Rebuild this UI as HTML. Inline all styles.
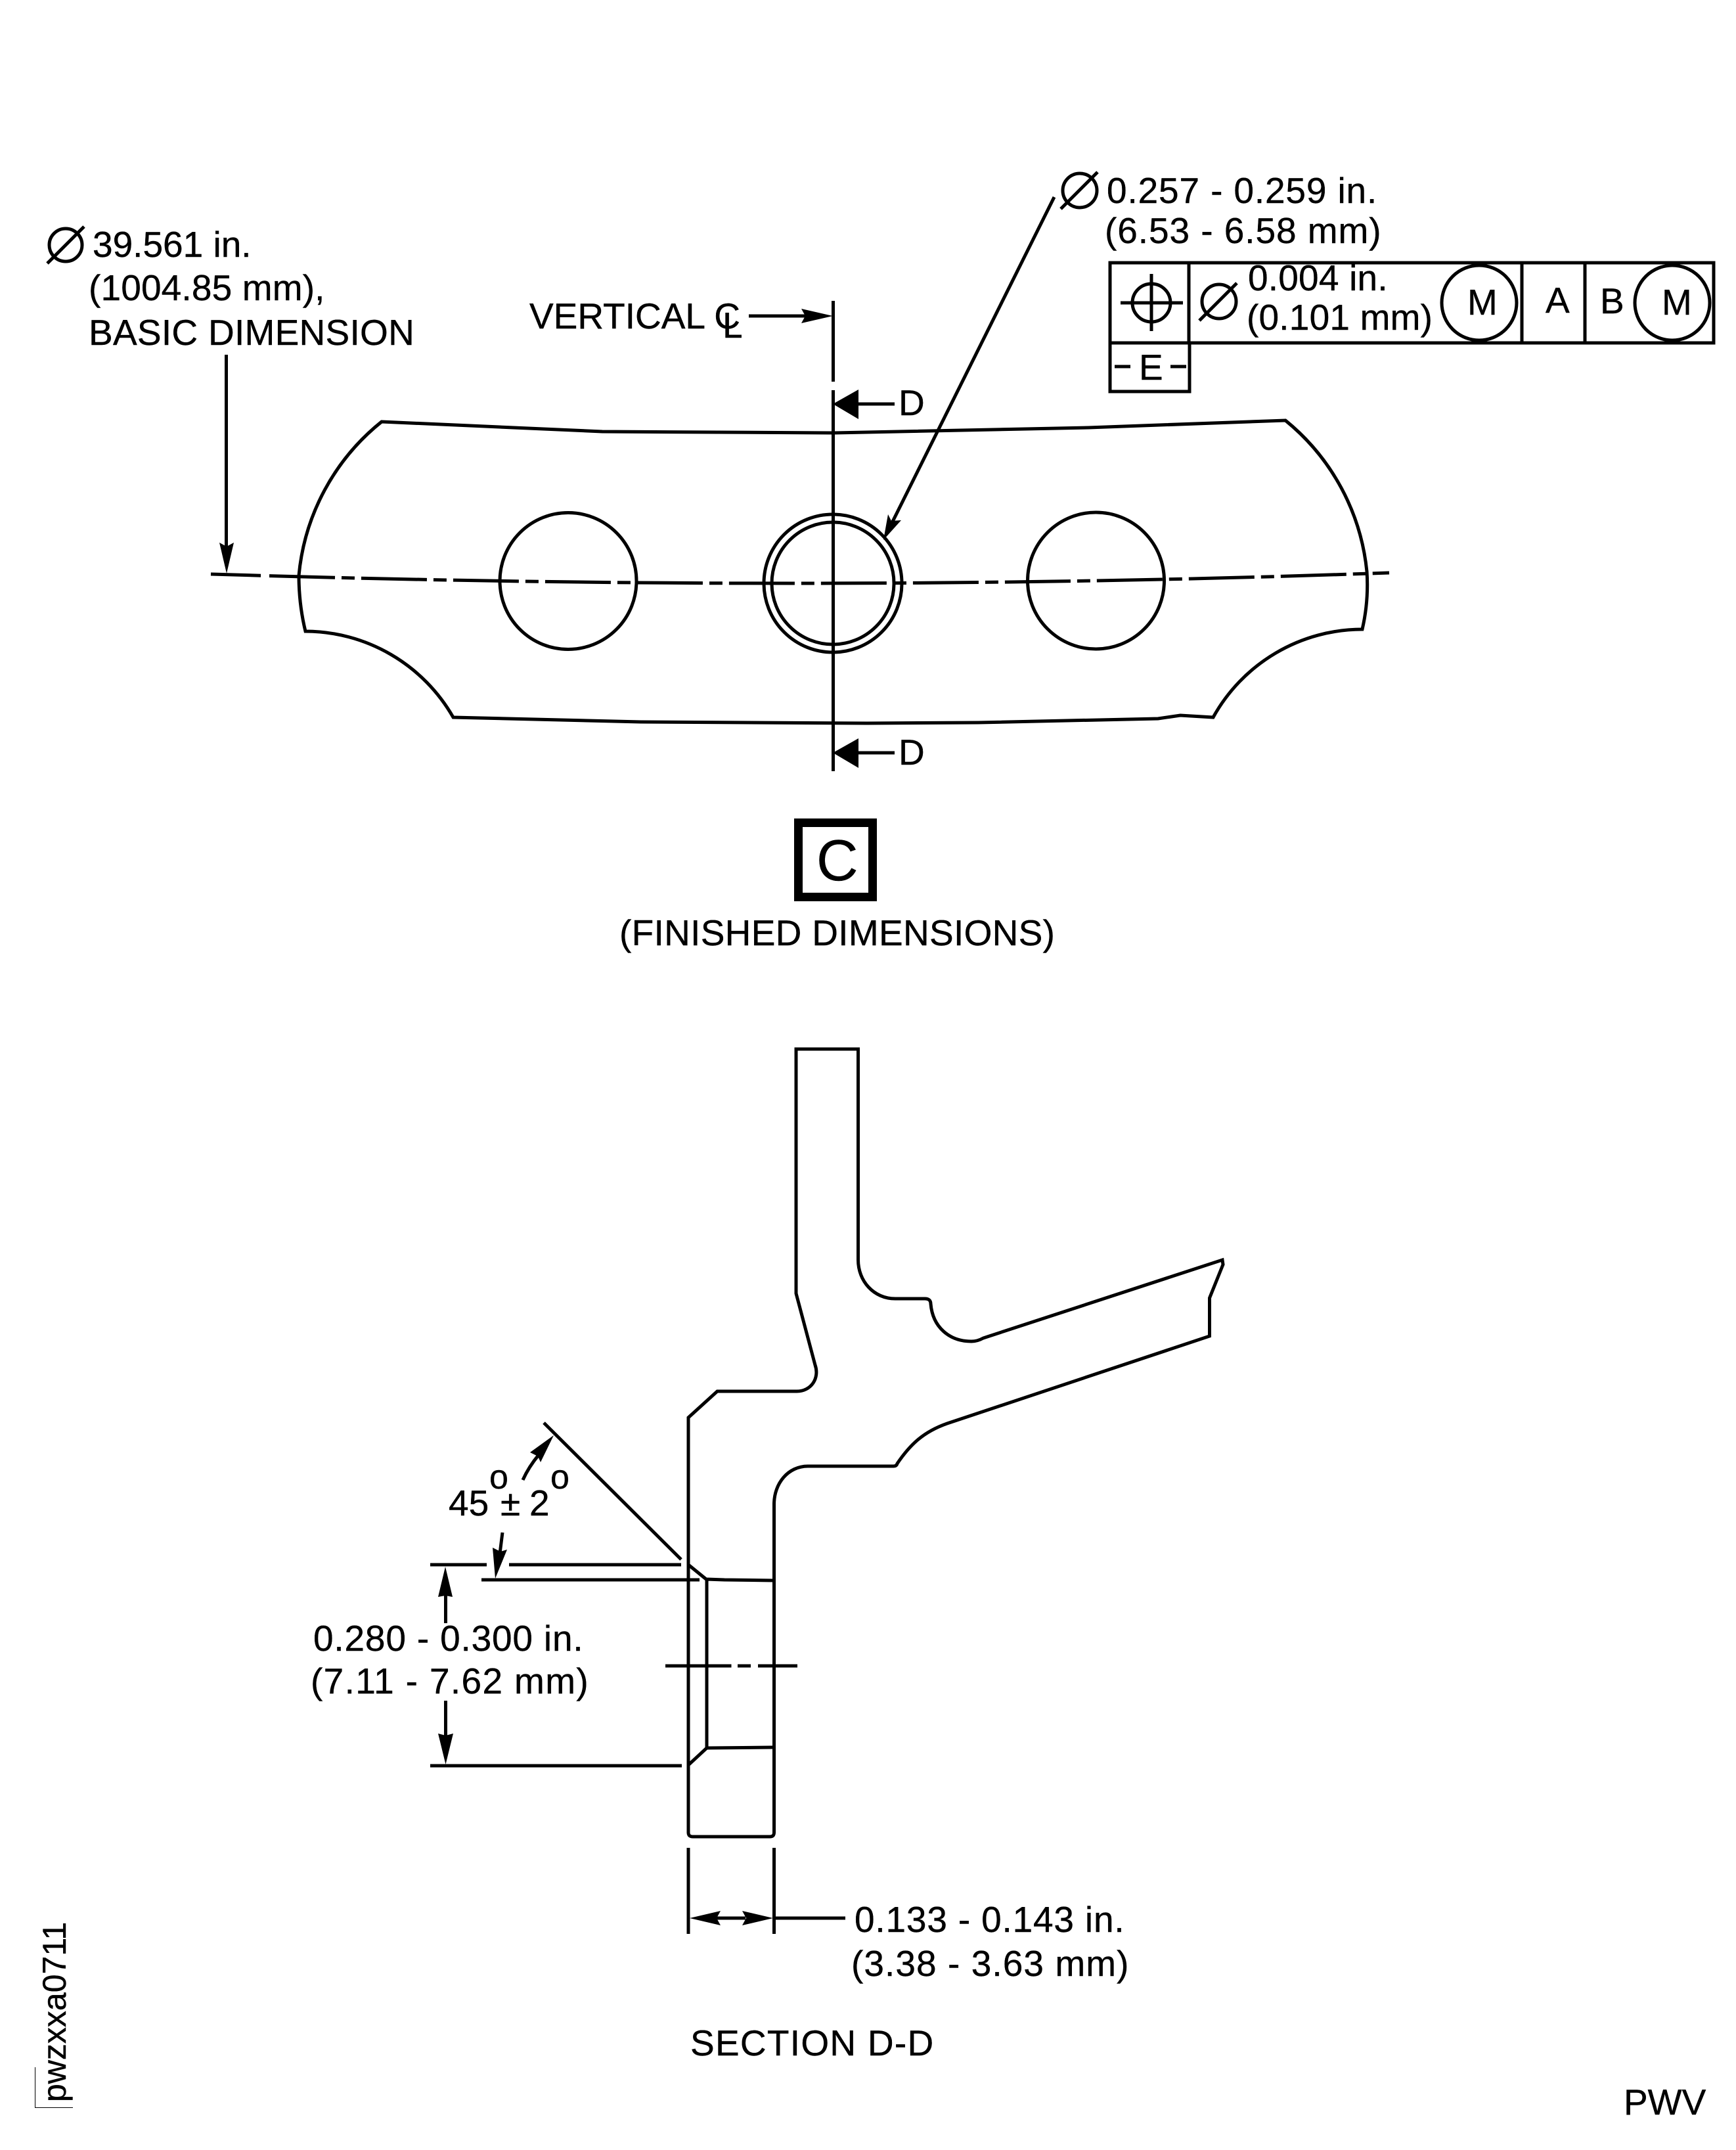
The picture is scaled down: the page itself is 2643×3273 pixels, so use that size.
<!DOCTYPE html>
<html>
<head>
<meta charset="utf-8">
<style>
html,body{margin:0;padding:0;background:#fff}
svg{display:block}
text{font-family:"Liberation Sans",sans-serif;font-size:55px;fill:#000;stroke:#000;stroke-width:.4}
.l{fill:none;stroke:#000;stroke-width:5}
.f{fill:#000;stroke:none}
</style>
</head>
<body>
<svg xmlns="http://www.w3.org/2000/svg" width="2643" height="3273" viewBox="0 0 2643 3273">
<rect width="2643" height="3273" fill="#fff"/>

<!-- Top view outline -->
<path class="l" d="M581 642 L917 657 L1268 659 L1657 651 L1957 640 A340 340 0 0 1 2081 870 Q2084 915 2074 958 A260 260 0 0 0 1847 1092 L1797 1089 L1763 1094 L1489 1100 L1320 1101 L976 1099 L690 1092 A260 260 0 0 0 465 961 Q455 920 455 876 A340 340 0 0 1 581 642 Z"/>
<circle class="l" cx="865" cy="884.5" r="104"/>
<circle class="l" cx="1268" cy="888" r="105"/>
<circle class="l" cx="1268" cy="888" r="93"/>
<circle class="l" cx="1668.5" cy="884" r="104"/>

<!-- Bolt circle centre line -->
<path class="l" d="M321 874 Q1259 903 2115 872" stroke-dasharray="76 13 100 10 20 10 100 10 20 10 100 10 20 10 100 10 20 10 100 10 20 10 100 10 20 10 100 10 20 10 100 10 20 10 100 10 20 10 100 10 20 10 100 10 20 10 100 10 20 10 100 10 25 999"/>

<!-- Vertical centre line -->
<path class="l" d="M1268.5 458 V581 M1268.5 594 V1174"/>
<path class="f" d="M1268 615 L1307 593 V638 Z"/>
<path class="l" d="M1300 615 H1362"/>
<text x="1368" y="632">D</text>
<path class="f" d="M1268 1146 L1307 1124 V1169 Z"/>
<path class="l" d="M1300 1146 H1362"/>
<text x="1368" y="1164">D</text>

<!-- Basic dimension note -->
<circle class="l" cx="100" cy="373" r="25"/>
<path class="l" d="M72 401 L128 345"/>
<text x="141" y="391">39.561 in.</text>
<text x="135" y="457" style="letter-spacing:.15px">(1004.85 mm),</text>
<text x="135" y="525" style="letter-spacing:.27px">BASIC DIMENSION</text>
<path class="l" d="M344.5 540 V850"/>
<path class="f" d="M345 873 L334 826 L345 832 L356 826 Z"/>

<!-- Vertical CL -->
<text x="806" y="500">VERTICAL C</text>
<text x="1100" y="514">L</text>
<path class="l" d="M1140 481 H1240"/>
<path class="f" d="M1268 481 L1220 470 L1226 481 L1220 492 Z"/>

<!-- Hole note -->
<circle class="l" cx="1644" cy="290" r="26"/>
<path class="l" d="M1615 318 L1671 262"/>
<text x="1685" y="309" style="letter-spacing:.86px">0.257 - 0.259 in.</text>
<text x="1682" y="370" style="letter-spacing:.94px">(6.53 - 6.58 mm)</text>
<path class="l" d="M1605 300 L1352 808"/>
<path class="f" d="M1345 822 L1352 783 L1357 793 L1372 792 Z"/>

<!-- Feature control frame -->
<path class="l" d="M1690 400 H2609 V522 H1690 Z M1810 400 V522 M2317 400 V522 M2413 400 V522 M1690 522 V596 H1811 V522"/>
<circle class="l" cx="1753" cy="461" r="29"/>
<path class="l" d="M1706 461 H1801 M1753 417 V504"/>
<circle class="l" cx="1856" cy="459" r="26"/>
<path class="l" d="M1826 488 L1883 431"/>
<text x="1900" y="442" style="letter-spacing:.2px">0.004 in.</text>
<text x="1898" y="502" style="letter-spacing:.2px">(0.101 mm)</text>
<circle class="l" cx="2252" cy="461" r="57"/>
<text x="2234" y="479">M</text>
<text x="2353" y="476">A</text>
<text x="2436" y="477">B</text>
<circle class="l" cx="2546" cy="461" r="57"/>
<text x="2530" y="479">M</text>
<path class="l" d="M1697 558 H1721 M1782 558 H1806"/>
<text x="1734" y="578">E</text>

<!-- View label -->
<rect x="1215.5" y="1252.5" width="113" height="113" fill="none" stroke="#000" stroke-width="13"/>
<text x="1243" y="1340" style="font-size:88px">C</text>
<text x="943" y="1439" style="letter-spacing:.3px">(FINISHED DIMENSIONS)</text>

<!-- Section profile -->
<path class="l" d="M1212 1597 H1306.5 V1918 C1306.5 1950 1330 1977 1363 1977 H1408 Q1417 1977 1417 1985 C1420 2020 1445 2042 1479 2042 Q1488 2042 1497 2037 L1861 1918 L1862 1925 L1841.5 1976 V2034 L1442 2167 C1405 2180 1385 2200 1366 2228 Q1365 2232 1360 2232 H1230 C1200 2232 1178.5 2258 1178.5 2290 V2790 Q1178.5 2796 1172 2796 H1055 Q1048 2796 1048 2790 V2158 L1092 2118 H1213 C1235 2118 1248 2098 1241 2078 L1212 1969 Z"/>

<!-- Counterbore details -->
<path class="l" d="M1048 2382 L1075 2404 L1103 2405 L1178 2406 M1076 2404 V2661 M1076 2661 L1178 2660 M1076 2661 L1049 2686"/>
<path class="l" d="M1013 2536 H1113.5 M1123 2536 H1143 M1154 2536 H1214"/>

<!-- Angle dimension -->
<path class="l" d="M828 2166 L1037 2374"/>
<path class="l" d="M655 2382 H741 M775 2382 H1037 M733 2405 H1065 M655 2688 H1038"/>
<path class="l" d="M796 2253 Q805 2233 820 2215"/>
<path class="f" d="M843 2185 L807 2211 L819 2217 L823 2226 Z"/>
<path class="l" d="M765 2333 L761 2365"/>
<path class="f" d="M754 2403 L750 2356 L762 2362 L772 2359 Z"/>
<text x="683" y="2307">45</text>
<text x="745" y="2266" style="font-size:52px">o</text>
<text x="762" y="2307">±</text>
<text x="806" y="2307">2</text>
<text x="838" y="2266" style="font-size:52px">o</text>

<!-- Height dimension -->
<path class="l" d="M678.5 2425 V2471 M678.5 2589 V2645"/>
<path class="f" d="M678 2385 L667 2431 L678 2429 L689 2431 Z"/>
<path class="f" d="M678.5 2686 L667 2639 L678.5 2642 L690 2639 Z"/>
<text x="477" y="2513" style="letter-spacing:.82px">0.280 - 0.300 in.</text>
<text x="473" y="2578" style="letter-spacing:1.35px">(7.11 - 7.62 mm)</text>

<!-- Width dimension -->
<path class="l" d="M1048 2813 V2944 M1178.5 2813 V2944 M1090 2920 H1135 M1178 2920 H1287"/>
<path class="f" d="M1050 2920 L1097 2909 L1091 2920 L1097 2931 Z"/>
<path class="f" d="M1177 2920 L1130 2909 L1136 2920 L1130 2931 Z"/>
<text x="1301" y="2941" style="letter-spacing:.82px">0.133 - 0.143 in.</text>
<text x="1296" y="3008" style="letter-spacing:1.06px">(3.38 - 3.63 mm)</text>
<text x="1051" y="3129" style="letter-spacing:1.27px">SECTION D-D</text>

<text x="2472" y="3219">PWV</text>

<!-- Figure id -->
<g transform="translate(100 3200) rotate(-90)"><text x="0" y="0" style="font-size:50px">pwzxxa0711</text></g>
<path fill="none" stroke="#000" stroke-width="1" d="M53.5 3147 V3208.5 H111"/>
</svg>
</body>
</html>
